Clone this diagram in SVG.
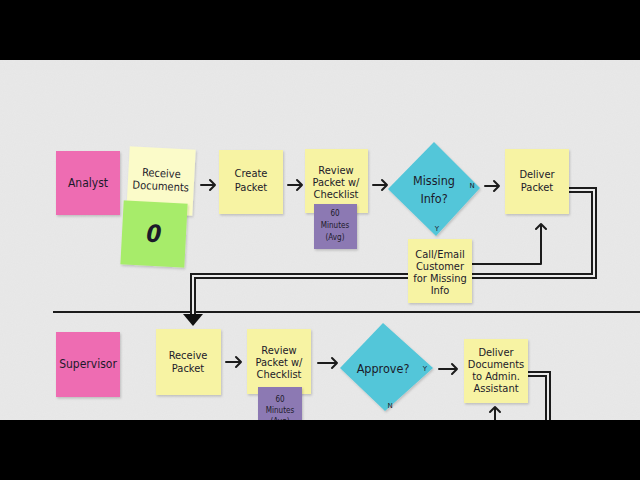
<svg xmlns="http://www.w3.org/2000/svg" width="640" height="480" viewBox="0 0 640 480">
<defs>
<filter id="sh" x="-10%" y="-10%" width="130%" height="130%">
<feDropShadow dx="1" dy="1.5" stdDeviation="1" flood-color="#000" flood-opacity="0.18"/>
</filter>
<filter id="paper">
<feTurbulence type="fractalNoise" baseFrequency="0.9" numOctaves="2" seed="3" result="n"/>
<feColorMatrix type="matrix" values="0 0 0 0 0.5  0 0 0 0 0.5  0 0 0 0 0.5  0 0 0 0.08 0"/>
</filter>
</defs>
<style>
.t{font-family:"DejaVu Sans Condensed","Liberation Sans Narrow",sans-serif;font-size:11px;fill:#1c1a2a;text-anchor:middle}
.b{font-size:12px}
.s{font-size:8px}
.d{font-size:12.5px}
.yn{font-size:7px;font-family:"DejaVu Sans",sans-serif;fill:#1c1a2a;text-anchor:middle}
.pink{fill:#ee6cb2;filter:url(#sh)}
.yel{fill:#f7f3a3;filter:url(#sh)}
.pur{fill:#8c79b3;filter:url(#sh)}
.cy{fill:#52c6d9;filter:url(#sh)}
.ar{fill:none;stroke:#1c1c1c;stroke-width:2;stroke-linecap:round;stroke-linejoin:round}
.dbo{fill:none;stroke:#1c1c1c;stroke-width:6;stroke-linejoin:miter}
.dbi{fill:none;stroke:#ececec;stroke-width:2;stroke-linejoin:miter}
</style>
<rect width="640" height="480" fill="#e9e9e9"/>
<rect width="640" height="480" filter="url(#paper)"/>
<line x1="53" y1="312" x2="640" y2="312" stroke="#1c1c1c" stroke-width="2"/>

<g id="connectors">
<path class="ar" d="M201 185H215M210 180L215 185L210 190"/>
<path class="ar" d="M288 185H302M297 180L302 185L297 190"/>
<path class="ar" d="M373 185H387M382 180L387 185L382 190"/>
<path class="ar" d="M485 186H499M494 181L499 186L494 191"/>
<path class="ar" d="M472 264H541V224M536 229L541 224L546 229"/>
<path class="dbo" d="M569 190H594V276H193V314"/>
<path class="dbi" d="M569 190H594V276H193V314"/>
<polygon points="183,314 203,314 193,326" fill="#111"/>
<path class="ar" d="M226 362H241M236 357L241 362L236 367"/>
<path class="ar" d="M318 363H337M332 358L337 363L332 368"/>
<path class="ar" d="M439 369H457M452 364L457 369L452 374"/>
<path class="ar" d="M495 425V407M490 412L495 407L500 412"/>
<path class="dbo" d="M528 374H548V425"/>
<path class="dbi" d="M528 374H548V425"/>
</g>

<g id="analyst">
<rect class="pink" x="56" y="151" width="64" height="64"/>
<text class="t b" x="88" y="187">Analyst</text>
</g>
<g id="receive-documents" transform="rotate(3 161 181)">
<rect x="128" y="148" width="66" height="66" fill="#fbfbc9" filter="url(#sh)"/>
<text class="t" x="161" y="177">Receive</text>
<text class="t" x="161" y="190">Documents</text>
</g>
<g id="count" transform="rotate(3 154 234)">
<rect x="122" y="202" width="64" height="64" fill="#a7ec6b" filter="url(#sh)"/>
<text class="t" x="154" y="242" style="font-size:24px;font-weight:bold;font-style:italic">0</text>
</g>
<g id="create-packet">
<rect class="yel" x="219" y="150" width="64" height="64"/>
<text class="t" x="251" y="177">Create</text>
<text class="t" x="251" y="191">Packet</text>
</g>
<g id="review-packet-1">
<rect class="yel" x="305" y="149" width="63" height="64"/>
<text class="t" x="336" y="174">Review</text>
<text class="t" x="336" y="186">Packet w/</text>
<text class="t" x="336" y="198">Checklist</text>
</g>
<g id="time-1">
<rect class="pur" x="314" y="204" width="43" height="45"/>
<text class="t s" x="335" y="216">60</text>
<text class="t s" x="335" y="228">Minutes</text>
<text class="t s" x="335" y="240">(Avg)</text>
</g>
<g id="missing-info">
<polygon class="cy" points="434,142 480,188 436,236 388,189"/>
<text class="t d" x="434" y="185">Missing</text>
<text class="t d" x="434" y="203">Info?</text>
<text class="yn" x="472" y="188">N</text>
<text class="yn" x="437" y="231">Y</text>
</g>
<g id="deliver-packet">
<rect class="yel" x="505" y="149" width="64" height="65"/>
<text class="t" x="537" y="178">Deliver</text>
<text class="t" x="537" y="191">Packet</text>
</g>
<g id="call-email">
<rect class="yel" x="408" y="239" width="64" height="64"/>
<text class="t" x="440" y="258">Call/Email</text>
<text class="t" x="440" y="270">Customer</text>
<text class="t" x="440" y="282">for Missing</text>
<text class="t" x="440" y="294">Info</text>
</g>

<g id="supervisor">
<rect class="pink" x="56" y="332" width="64" height="65"/>
<text class="t b" x="88" y="368">Supervisor</text>
</g>
<g id="receive-packet">
<rect class="yel" x="156" y="329" width="65" height="66"/>
<text class="t" x="188" y="359">Receive</text>
<text class="t" x="188" y="372">Packet</text>
</g>
<g id="review-packet-2">
<rect class="yel" x="247" y="329" width="64" height="65"/>
<text class="t" x="279" y="354">Review</text>
<text class="t" x="279" y="366">Packet w/</text>
<text class="t" x="279" y="378">Checklist</text>
</g>
<g id="time-2">
<rect class="pur" x="258" y="387" width="44" height="45"/>
<text class="t s" x="280" y="402">60</text>
<text class="t s" x="280" y="413">Minutes</text>
<text class="t s" x="280" y="424">(Avg)</text>
</g>
<g id="approve">
<polygon class="cy" points="383,323 433,368 385,411 340,368"/>
<text class="t d" x="383" y="373">Approve?</text>
<text class="yn" x="425" y="371">Y</text>
<text class="yn" x="390" y="408">N</text>
</g>
<g id="deliver-documents">
<rect class="yel" x="464" y="339" width="64" height="64"/>
<text class="t" x="496" y="356">Deliver</text>
<text class="t" x="496" y="368">Documents</text>
<text class="t" x="496" y="380">to Admin.</text>
<text class="t" x="496" y="392">Assistant</text>
</g>

<rect x="0" y="0" width="640" height="60" fill="#000"/>
<rect x="0" y="420" width="640" height="60" fill="#000"/>
</svg>
